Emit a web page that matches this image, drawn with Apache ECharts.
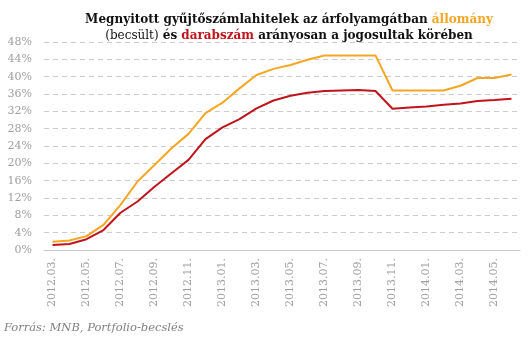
<!DOCTYPE html>
<html><head><meta charset="utf-8">
<script src="https://cdn.jsdelivr.net/npm/echarts@6/dist/echarts.min.js"></script>
<style>html,body{margin:0;padding:0;background:#fff}#c{width:531px;height:342px}</style>
</head><body><div id="c"></div>
<script>
const categories = ['2012.03.','2012.04.','2012.05.','2012.06.','2012.07.','2012.08.','2012.09.','2012.10.','2012.11.','2012.12.',
 '2013.01.','2013.02.','2013.03.','2013.04.','2013.05.','2013.06.','2013.07.','2013.08.','2013.09.','2013.10.','2013.11.','2013.12.',
 '2014.01.','2014.02.','2014.03.','2014.04.','2014.05.','2014.06.'];
const allomany = [1.9,2.2,3.2,5.8,10.4,15.8,19.6,23.5,26.8,31.6,34.0,37.3,40.4,41.8,42.7,43.9,44.9,44.9,44.9,44.9,36.8,36.8,36.8,36.8,37.9,39.7,39.7,40.5];
const darabszam = [1.15,1.4,2.5,4.6,8.6,11.2,14.6,17.7,20.8,25.6,28.3,30.2,32.7,34.5,35.6,36.3,36.7,36.8,36.9,36.7,32.6,32.9,33.1,33.5,33.8,34.4,34.6,34.9];
const yTicks = [0,4,8,12,16,20,24,28,32,36,40,44,48];

const chart = echarts.init(document.getElementById('c'), null, {renderer:'canvas'});
const serif = 'DejaVu Serif';
chart.setOption({
  animation:false,
  backgroundColor:'#fff',
  title:{
    left:284, top:7, textAlign:'center',
    text:'{b|Megnyitott gyűjtőszámlahitelek az árfolyamgátban }{o|állomány}\n{n|(becsült)}{b| és }{r|darabszám}{b| arányosan a jogosultak körében}',
    textStyle:{
      rich:{
        b:{fontFamily:serif,fontWeight:'bold',fontSize:12,color:'#111',lineHeight:16},
        o:{fontFamily:serif,fontWeight:'bold',fontSize:12,color:'#F5A623',lineHeight:16},
        r:{fontFamily:serif,fontWeight:'bold',fontSize:12,color:'#C0141C',lineHeight:16},
        n:{fontFamily:serif,fontWeight:'normal',fontSize:12,color:'#111',lineHeight:16}
      }
    }
  },
  graphic:[{type:'text',left:4,top:322,style:{text:'Forrás: MNB, Portfolio-becslés',font:'italic 11.5px "DejaVu Serif"',fill:'#808080'}}],
  grid:{left:44,right:11,top:42,bottom:92},
  xAxis:{
    type:'category', data:categories, boundaryGap:true,
    axisLine:{lineStyle:{color:'#c8c8c8',width:1}},
    axisTick:{show:false},
    axisLabel:{rotate:90,interval:1,margin:8,color:'#a0a0a0',fontFamily:serif,fontSize:11}
  },
  yAxis:{
    type:'value', min:0, max:48, interval:4,
    axisLine:{show:false}, axisTick:{show:false},
    axisLabel:{margin:12,color:'#a0a0a0',fontFamily:serif,fontSize:11,formatter:v=>yTicks.includes(v)?v+'%':''},
    splitLine:{lineStyle:{color:'#cccccc',type:[5,4],width:1}}
  },
  series:[
    {name:'állomány',type:'line',data:allomany,symbol:'none',lineStyle:{color:'#F5A623',width:2},z:3},
    {name:'darabszám',type:'line',data:darabszam,symbol:'none',lineStyle:{color:'#C0141C',width:2},z:4}
  ]
});
</script></body></html>
